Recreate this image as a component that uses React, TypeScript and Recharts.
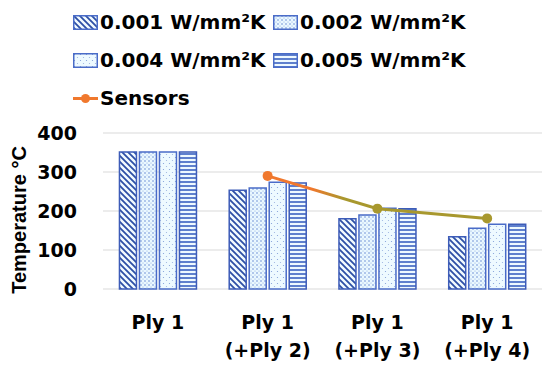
import {ComposedChart, Bar, Line, XAxis, YAxis, CartesianGrid, Label} from 'recharts'

const categoryTop = ['Ply 1', 'Ply 1', 'Ply 1', 'Ply 1']
const categoryBottom = ['', '(+Ply 2)', '(+Ply 3)', '(+Ply 4)']
const h001 = [351, 253, 180, 134]
const h002 = [351, 259, 190, 156]
const h004 = [351, 274, 207, 166]
const h005 = [351, 272, 206, 166]
const sensors = [null, 290, 206, 181]
const yTicks = [0, 100, 200, 300, 400]

const seriesNames = ['0.001 W/mm²K', '0.002 W/mm²K', '0.004 W/mm²K', '0.005 W/mm²K']
const patternIds = ['pDiag', 'pDense', 'pSparse', 'pHoriz']

const FONT = '"DejaVu Sans", sans-serif'
const ORANGE = '#F0782D'
const OLIVE = '#A8982E'

const chartData = categoryTop.map((c, i) => ({
    name: c,
    sub: categoryBottom[i],
    h001: h001[i],
    h002: h002[i],
    h004: h004[i],
    h005: h005[i],
    sensors: sensors[i],
}))

const XTick = ({x, y, payload}: any) => {
    const i = payload.index
    return (
        <text x={x} y={y} textAnchor="middle" fontFamily={FONT} fontWeight="bold" fontSize={19} fill="#000">
            <tspan x={x} dy={32}>{categoryTop[i]}</tspan>
            {categoryBottom[i] && <tspan x={x} dy={28}>{categoryBottom[i]}</tspan>}
        </text>
    )
}

const YLabel = ({viewBox}: any) => {
    const cx = 26
    const cy = viewBox.y + viewBox.height / 2 + 9
    return (
        <text x={cx} y={cy} transform={`rotate(-90, ${cx}, ${cy})`} textAnchor="middle"
              fontFamily='"Liberation Sans", Arial, sans-serif' fontWeight="bold" fontSize={20} fill="#000">
            Temperature °C
        </text>
    )
}

const SensorDot = (props: any) => {
    const {cx, cy, index} = props
    if (cx == null || cy == null) return <g key={`d${index}`} />
    return <circle key={`d${index}`} cx={cx} cy={cy} r={5} fill={index === 1 ? ORANGE : OLIVE} stroke="none" />
}

const Swatch = ({id}: {id: string}) => (
    <svg width={25} height={15} style={{display: 'block'}}>
        <rect x={0.75} y={0.75} width={23.5} height={13.5} fill={`url(#${id})`} stroke="#4a6cc8" strokeWidth={1.5} />
    </svg>
)

const LegendBox = () => {
    const item = (i: number) => (
        <div style={{display: 'flex', alignItems: 'center', gap: 2}}>
            <Swatch id={patternIds[i]} />
            <span>{seriesNames[i]}</span>
        </div>
    )
    return (
        <div style={{position: 'absolute', left: 73, top: 8, fontFamily: FONT, fontWeight: 'bold', fontSize: 20, color: '#000', lineHeight: '28px'}}>
            <div style={{display: 'flex', gap: 4, height: 38}}>
                <div style={{width: 196}}>{item(0)}</div>
                <div>{item(1)}</div>
            </div>
            <div style={{display: 'flex', gap: 4, height: 38}}>
                <div style={{width: 196}}>{item(2)}</div>
                <div>{item(3)}</div>
            </div>
            <div style={{display: 'flex', alignItems: 'center', gap: 2}}>
                <svg width={25} height={15} style={{display: 'block'}}>
                    <line x1={0} y1={7.5} x2={25} y2={7.5} stroke={ORANGE} strokeWidth={3} />
                    <circle cx={12.5} cy={7.5} r={4.5} fill={ORANGE} />
                </svg>
                <span>Sensors</span>
            </div>
        </div>
    )
}

const App = () => {
    return (
        <div style={{position: 'absolute', left: 0, top: 0, width: 550, height: 370, background: '#fff'}}>
            <ComposedChart width={550} height={370} data={chartData}
                           margin={{top: 133, right: 8, left: 0, bottom: 0}}
                           barCategoryGap="15%" barGap={3}>
                <defs>
                    <pattern id="pDiag" patternUnits="userSpaceOnUse" width={6} height={6}>
                        <rect width={6} height={6} fill="#f2fbff" />
                        <path d="M0,0 L6,6 M-3,3 L3,9 M3,-3 L9,3" stroke="#2d4fa6" strokeWidth={1.8} />
                    </pattern>
                    <pattern id="pDense" patternUnits="userSpaceOnUse" width={4} height={4}>
                        <rect width={4} height={4} fill="#eaf8ff" />
                        <circle cx={1} cy={1} r={0.7} fill="#4a70c8" />
                        <circle cx={3} cy={3} r={0.5} fill="#7b9ad8" />
                    </pattern>
                    <pattern id="pSparse" patternUnits="userSpaceOnUse" width={6} height={6}>
                        <rect width={6} height={6} fill="#eefaff" />
                        <circle cx={1.5} cy={1.5} r={0.6} fill="#7f9cd6" />
                        <circle cx={4.5} cy={4.5} r={0.6} fill="#9bb2e0" />
                    </pattern>
                    <pattern id="pHoriz" patternUnits="userSpaceOnUse" width={4} height={4}>
                        <rect width={4} height={4} fill="#eef9ff" />
                        <line x1={0} y1={2} x2={4} y2={2} stroke="#3a61c0" strokeWidth={1.6} />
                    </pattern>
                    <linearGradient id="sensorGrad" x1="0" y1="0" x2="1" y2="0">
                        <stop offset="0%" stopColor={ORANGE} />
                        <stop offset="20%" stopColor={ORANGE} />
                        <stop offset="35%" stopColor={OLIVE} />
                        <stop offset="100%" stopColor={OLIVE} />
                    </linearGradient>
                </defs>
                <CartesianGrid vertical={false} stroke="#d9d9d9" strokeWidth={1} />
                <XAxis dataKey="name" height={81} axisLine={false} tickLine={false} interval={0}
                       tick={<XTick />} />
                <YAxis domain={[0, 400]} ticks={yTicks} width={103} axisLine={false} tickLine={false}
                       tickMargin={20}
                       tick={{fontFamily: FONT, fontWeight: 'bold', fontSize: 19, fill: '#000'}}>
                    <Label content={<YLabel />} />
                </YAxis>
                <Bar dataKey="h001" fill="url(#pDiag)" stroke="#3d5cb8" strokeWidth={1.5} isAnimationActive={false} />
                <Bar dataKey="h002" fill="url(#pDense)" stroke="#4a6cc8" strokeWidth={1.5} isAnimationActive={false} />
                <Bar dataKey="h004" fill="url(#pSparse)" stroke="#4a6cc8" strokeWidth={1.5} isAnimationActive={false} />
                <Bar dataKey="h005" fill="url(#pHoriz)" stroke="#3d5cb8" strokeWidth={1.5} isAnimationActive={false} />
                <Line dataKey="sensors" type="linear" stroke="url(#sensorGrad)" strokeWidth={3}
                      dot={SensorDot} activeDot={false} isAnimationActive={false} />
            </ComposedChart>
            <LegendBox />
        </div>
    )
}

export default App
